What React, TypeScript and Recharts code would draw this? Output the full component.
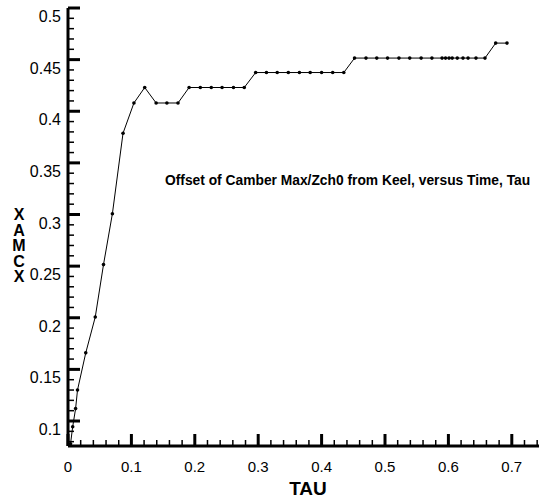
import { LineChart, Line, XAxis, YAxis } from "recharts";

const tau = [
  0.004, 0.0074, 0.012, 0.015, 0.028, 0.043, 0.056, 0.07, 0.0868, 0.104,
  0.121, 0.139, 0.156, 0.1735, 0.191, 0.2087, 0.226, 0.243, 0.261, 0.278,
  0.296, 0.313, 0.33, 0.3475, 0.365, 0.382, 0.4, 0.4175, 0.435, 0.452,
  0.47, 0.487, 0.504, 0.522, 0.539, 0.557, 0.574, 0.59, 0.5955, 0.601,
  0.606, 0.614, 0.623, 0.631, 0.6435, 0.6577, 0.6746, 0.6924,
];

const xcmax = [
  0.078, 0.0945, 0.112, 0.13, 0.166, 0.2007, 0.2515, 0.3007, 0.3787, 0.408,
  0.423, 0.408, 0.408, 0.408, 0.423, 0.423, 0.423, 0.423, 0.423, 0.423,
  0.4375, 0.4375, 0.4375, 0.4375, 0.4375, 0.4375, 0.4375, 0.4375, 0.4375, 0.4515,
  0.4515, 0.4515, 0.4515, 0.4515, 0.4515, 0.4515, 0.4515, 0.4515, 0.4515, 0.4515,
  0.4515, 0.4515, 0.4515, 0.4515, 0.4515, 0.4515, 0.466, 0.466,
];

const data = tau.map((t, i) => ({ tau: t, xcmax: xcmax[i] }));

// every 0.01 on Y, every 0.02 on X; labels only on the majors
const yTicks: number[] = [];
for (let i = 8; i <= 50; i++) yTicks.push(i / 100);
const xTicks: number[] = [];
for (let i = 0; i <= 74; i += 2) xTicks.push(i / 100);

const yAxisLetters = ["X", "A", "M", "C", "X"];
const title = "Offset of Camber Max/Zch0 from Keel, versus Time, Tau";

const FONT = "'Liberation Sans', Arial, Helvetica, sans-serif";

const isMajor = (v: number, step: number) =>
  Math.abs(v / step - Math.round(v / step)) < 1e-6;

const fmt = (v: number) => String(parseFloat(v.toFixed(2)));

function YTick(props: any) {
  const { x, y, payload } = props;
  const major = isMajor(payload.value, 0.05);
  return (
    <g>
      <line
        x1={x}
        x2={x + (major ? 12 : 6)}
        y1={y}
        y2={y}
        stroke="#000"
        strokeWidth={major ? 3 : 1.5}
      />
      {major && (
        <text x={x - 7} y={y + 14} textAnchor="end" fontSize={16} fontFamily={FONT} fill="#000">
          {fmt(payload.value)}
        </text>
      )}
    </g>
  );
}

function XTick(props: any) {
  const { x, y, payload } = props;
  const major = isMajor(payload.value, 0.1);
  return (
    <g>
      <line
        x1={x}
        x2={x}
        y1={y}
        y2={y - (major ? 12 : 6)}
        stroke="#000"
        strokeWidth={major ? 3 : 1.5}
      />
      {major && (
        <text x={x} y={y + 26} textAnchor="middle" fontSize={15} fontFamily={FONT} fill="#000">
          {fmt(payload.value)}
        </text>
      )}
    </g>
  );
}

const Dot = (props: any) => {
  const { cx, cy, index } = props;
  return <circle key={index} cx={cx} cy={cy} r={1.8} fill="#000" />;
};

export default function App() {
  return (
    <div style={{ position: "absolute", left: 0, top: 0, width: 539, height: 500, background: "#fff" }}>
      <LineChart
        width={539}
        height={500}
        data={data}
        margin={{ top: 8, right: 0, bottom: 0, left: 0 }}
      >
        <XAxis
          type="number"
          dataKey="tau"
          domain={[0, 0.7429]}
          ticks={xTicks}
          interval={0}
          height={54}
          tickSize={0}
          tickMargin={0}
          tickLine={false}
          tick={<XTick />}
          axisLine={{ stroke: "#000", strokeWidth: 3 }}
          allowDataOverflow
        />
        <YAxis
          type="number"
          dataKey="xcmax"
          domain={[0.0758, 0.5]}
          ticks={yTicks}
          interval={0}
          width={68}
          tickSize={0}
          tickMargin={0}
          tickLine={false}
          tick={<YTick />}
          axisLine={{ stroke: "#000", strokeWidth: 3 }}
          allowDataOverflow
        />
        <Line
          type="linear"
          dataKey="xcmax"
          stroke="#000"
          strokeWidth={1}
          dot={<Dot />}
          isAnimationActive={false}
        />
      </LineChart>
      <svg
        width={539}
        height={500}
        style={{ position: "absolute", left: 0, top: 0, pointerEvents: "none" }}
      >
        <text x={165} y={185} fontSize={13.8} fontWeight="bold" fontFamily={FONT} fill="#000">
          {title}
        </text>
        {yAxisLetters.map((ch, i) => (
          <text
            key={i}
            x={19}
            y={220 + i * 15.5}
            textAnchor="middle"
            fontSize={16}
            fontWeight="bold"
            fontFamily={FONT}
            fill="#000"
          >
            {ch}
          </text>
        ))}
        <text x={308} y={495} textAnchor="middle" fontSize={19} fontWeight="bold" fontFamily={FONT} fill="#000">
          TAU
        </text>
      </svg>
    </div>
  );
}
